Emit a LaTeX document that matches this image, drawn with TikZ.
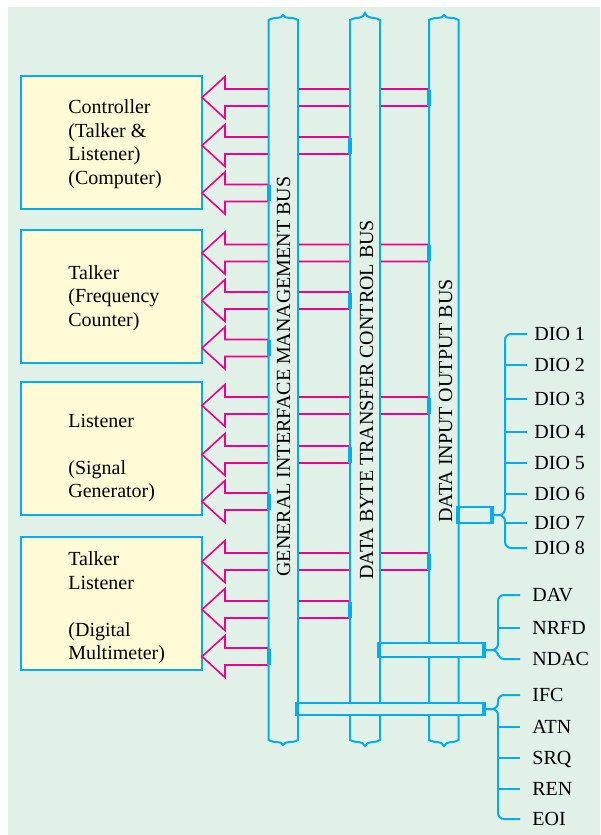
\documentclass[tikz,border=0pt]{standalone}
\usepackage{fontspec}
\setmainfont{Liberation Serif}
\definecolor{bgpanel}{RGB}{226,241,232}
\definecolor{unitfill}{RGB}{255,251,214}
\definecolor{buscol}{RGB}{0,174,239}
\definecolor{sigcol}{RGB}{236,0,140}

\begin{document}
\begin{tikzpicture}[x=0.5pt, y=-0.5pt,
	unit/.style={draw=buscol, fill=unitfill, line width=1pt, minimum width=90.5pt, minimum height=66.5pt, inner sep=0pt},
	unittext/.style={anchor=west, align=left, inner sep=0pt, font=\fontsize{10}{11.75}\selectfont},
	sig/.style={draw=sigcol, line width=0.8pt},
	busline/.style={draw=buscol, fill=bgpanel, line width=1pt},
	buslabel/.style={rotate=90, anchor=base west, inner sep=0pt, font=\fontsize{10}{12}\selectfont},
	tap/.style={draw=buscol, line width=1.6pt},
	busbar/.style={draw=buscol, fill=bgpanel, line width=1pt, inner sep=0pt},
	lead/.style={draw=buscol, line width=1pt, rounded corners=3pt},
	dio/.style={anchor=west, inner xsep=3.5pt, inner ysep=0pt, text height=6.6pt, text depth=0pt, font=\fontsize{10}{12}\selectfont},
	ctl/.style={dio, inner xsep=6pt}]

			\useasboundingbox (0,0) rectangle (600,835);
			\fill[bgpanel] (8,7) rectangle (600,835);

			% Instruments
			\node[unit] (ctrl) at (111.5,142.5) {};
			\node[unit] (talk) at (111.5,296.5) {};
			\node[unit] (lstn) at (111.5,448) {};
			\node[unit] (dmm)  at (111.5,603.5) {};

			\node[unittext] (ctrltxt) at (68,144) {Controller\\(Talker \&\\Listener)\\(Computer)};
			\node[unittext] (talktxt) at (68,298) {Talker\\(Frequency\\Counter)};
			\node[unittext] (lstntxt) at (68,458) {Listener\\ \mbox{}\\(Signal\\Generator)};
			\node[unittext] (dmmtxt)  at (68,608) {Talker\\Listener\\ \mbox{}\\(Digital\\Multimeter)};

			% Arrows from the buses (centre / bus edge)
			\def\taplist{97.5/429, 145.5/350, 193/269, 253/429, 300.5/350, 348/269,
				405.5/429, 454.5/350, 501.5/269, 561.5/429, 609.5/350, 656.5/269}
			\foreach \c/\tx in \taplist
				\draw[sig] (\tx,\c-8.5) -- (225,\c-8.5) -- (225,\c-21) -- (202,\c)
					-- (225,\c+21) -- (225,\c+8.5) -- (\tx,\c+8.5);

			% General interface management bus
			\draw[busline] (268.5,20) .. controls (276,16) and (280,20) .. (283,15)
				.. controls (286,20) and (291,16) .. (298,20) -- (298,740)
				.. controls (291,744) and (286,740) .. (283,745)
				.. controls (280,740) and (276,744) .. (268.5,740) -- cycle;
			% Data byte transfer control bus
			\draw[busline] (350,20) .. controls (358,16) and (362,20) .. (365,13)
				.. controls (368,20) and (373,16) .. (380,20) -- (380,740)
				.. controls (373,744) and (368,740) .. (365,746)
				.. controls (362,740) and (358,744) .. (350,740) -- cycle;
			% Data input output bus
			\draw[busline] (429,20) .. controls (437,16) and (441,20) .. (444,15)
				.. controls (447,20) and (452,16) .. (458.5,20) -- (458.5,740)
				.. controls (452,744) and (447,740) .. (444,746)
				.. controls (441,740) and (437,744) .. (429,740) -- cycle;

			\node[buslabel] (gimbl) at (290,577) {GENERAL INTERFACE MANAGEMENT BUS};
			\node[buslabel] (dbtcl) at (373,580) {DATA BYTE TRANSFER CONTROL BUS};
			\node[buslabel] (diol)  at (452,523) {DATA INPUT OUTPUT BUS};

			\foreach \c/\tx in \taplist
				\draw[tap] (\tx,\c-8) -- (\tx,\c+8);

			% Cable bars
			\node[busbar, minimum width=53.5pt, minimum height=7pt] (hsbar)  at (431.5,650) {};
			\node[busbar, minimum width=94.5pt, minimum height=6pt] (mgbar)  at (390.5,709) {};
			\node[busbar, minimum width=18pt,   minimum height=8pt] (diobar) at (475,515) {};
			\fill[buscol] (hsbar.north west)  rectangle ([xshift=2pt]hsbar.south west);
			\fill[buscol] (hsbar.north east)  rectangle ([xshift=-2pt]hsbar.south east);
			\fill[buscol] (mgbar.north west)  rectangle ([xshift=2pt]mgbar.south west);
			\fill[buscol] (mgbar.north east)  rectangle ([xshift=-2pt]mgbar.south east);
			\fill[buscol] (diobar.north west) rectangle ([xshift=2pt]diobar.south west);
			\fill[buscol] (diobar.north east) rectangle ([xshift=-2pt]diobar.south east);

			% Data lines
			\node[dio] (dio1) at (527,334) {DIO 1};
			\node[dio] (dio2) at (527,365) {DIO 2};
			\node[dio] (dio3) at (527,399) {DIO 3};
			\node[dio] (dio4) at (527,432) {DIO 4};
			\node[dio] (dio5) at (527,463) {DIO 5};
			\node[dio] (dio6) at (527,494) {DIO 6};
			\node[dio] (dio7) at (527,523) {DIO 7};
			\node[dio] (dio8) at (527,548) {DIO 8};
			\draw[lead] (dio1.west) -| (505,515) -- (diobar.east);
			\draw[lead] (dio8.west) -| (505,515) -- (diobar.east);
			\foreach \k in {2,...,7}
				\draw[lead] (dio\k.west) -- ++(-22,0);

			% Handshake lines
			\node[ctl] (dav)  at (520,595) {DAV};
			\node[ctl] (nrfd) at (520,628) {NRFD};
			\node[ctl] (ndac) at (520,659) {NDAC};
			\draw[lead] (dav.west)  -| (498,650) -- (hsbar.east);
			\draw[lead] (ndac.west) -| (498,650) -- (hsbar.east);
			\draw[lead] (nrfd.west) -- ++(-22,0);

			% Management lines
			\node[ctl] (ifc) at (520,695) {IFC};
			\node[ctl] (atn) at (520,727) {ATN};
			\node[ctl] (srq) at (520,758) {SRQ};
			\node[ctl] (ren) at (520,789) {REN};
			\node[ctl] (eoi) at (520,819) {EOI};
			\draw[lead] (ifc.west) -| (498,709) -- (mgbar.east);
			\draw[lead] (eoi.west) -| (498,709) -- (mgbar.east);
			\foreach \k in {atn,srq,ren}
				\draw[lead] (\k.west) -- ++(-22,0);

		\end{tikzpicture}
\end{document}
